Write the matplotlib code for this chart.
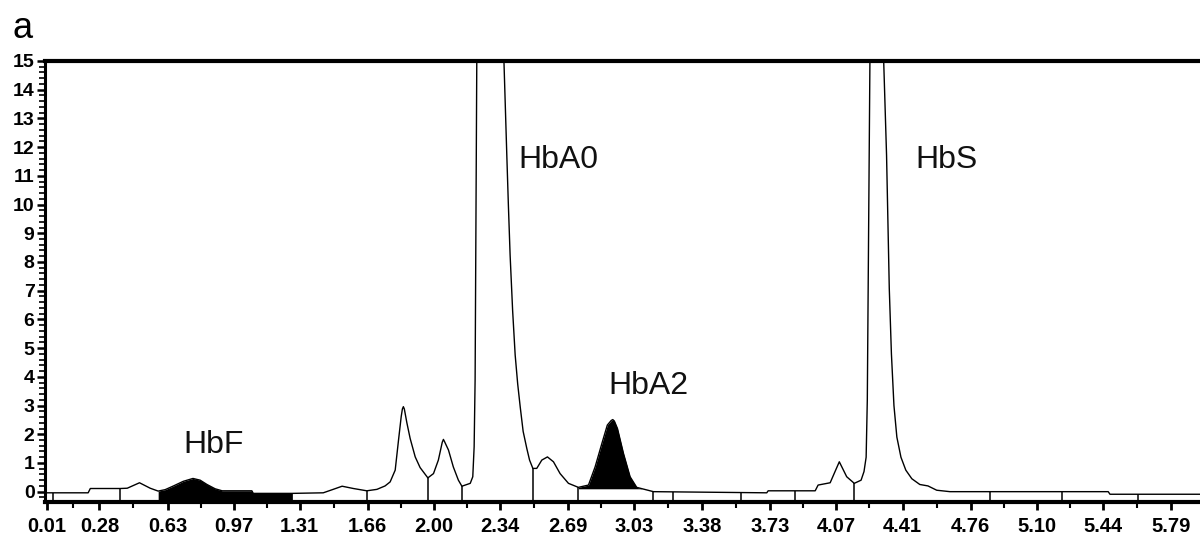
import matplotlib
matplotlib.use("Agg")
import matplotlib.pyplot as plt
import numpy as np
from matplotlib.ticker import AutoMinorLocator, FixedLocator

# ---- data (time in min, signal) ----
time = [0.010, 0.222, 0.233, 0.387, 0.423, 0.486, 0.541, 0.582, 0.618, 0.661,
        0.711, 0.761, 0.798, 0.833, 0.875, 0.911, 1.064, 1.071, 1.270, 1.431,
        1.482, 1.528, 1.586, 1.655, 1.707, 1.749, 1.775, 1.801, 1.818, 1.832,
        1.838, 1.843, 1.848, 1.861, 1.878, 1.904, 1.929, 1.969, 1.998, 2.023,
        2.043, 2.049, 2.055, 2.075,
        2.100, 2.126, 2.144, 2.187, 2.200, 2.207, 2.212, 2.221, 2.289, 2.358,
        2.375, 2.383, 2.392, 2.405, 2.418, 2.431, 2.444, 2.459, 2.478, 2.492,
        2.509, 2.529, 2.555, 2.584, 2.615,
        2.649, 2.692, 2.743, 2.795, 2.829, 2.864, 2.892, 2.912, 2.920, 2.928,
        2.944, 2.975,
        3.009, 3.043, 3.112, 3.129, 3.712, 3.719, 3.961, 3.976, 4.038, 4.063,
        4.085, 4.123, 4.162, 4.197, 4.212, 4.223, 4.229, 4.243, 4.279, 4.311,
        4.328, 4.342, 4.353, 4.366, 4.381, 4.402, 4.427, 4.458, 4.499, 4.541,
        4.586, 4.654, 5.468, 5.477, 5.940]
signal = [-0.04, -0.04, 0.11, 0.11, 0.12, 0.31, 0.12, 0.02, 0.07, 0.20,
          0.36, 0.46, 0.40, 0.25, 0.10, 0.03, 0.03, -0.06, -0.06, -0.04,
          0.08, 0.19, 0.11, 0.03, 0.08, 0.20, 0.34, 0.75, 1.79, 2.62,
          2.88, 2.96, 2.88, 2.40, 1.85, 1.21, 0.84, 0.48, 0.63, 1.10,
          1.72, 1.82, 1.74, 1.45,
          0.86, 0.40, 0.19, 0.29, 0.52, 1.56, 3.90, 15.5, 18.0, 15.5,
          11.72, 10.0, 8.24, 6.3, 4.76, 3.75, 2.95, 2.10, 1.50, 1.10,
          0.81, 0.81, 1.10, 1.21, 1.04,
          0.63, 0.29, 0.15, 0.23, 0.86, 1.68, 2.32, 2.48, 2.51, 2.46,
          2.20, 1.33,
          0.52, 0.15, 0.03, 0.00, -0.04, 0.03, 0.03, 0.23, 0.31, 0.70,
          1.04, 0.52, 0.29, 0.40, 0.70, 1.20, 3.19, 15.5, 18.0, 15.5,
          11.72, 7.08, 4.80, 3.00, 1.90, 1.20, 0.75, 0.45, 0.25, 0.20,
          0.05, 0.00, 0.00, -0.09, -0.09]

# peak delimiters (integration boundaries), min
dividers = [0.042, 0.387, 1.270, 1.655, 1.969, 2.144, 2.509, 2.743, 3.129,
            3.232, 3.578, 3.857, 4.162, 4.862, 5.230, 5.622]

# shaded peaks (start, end) in min
hbf_range = (0.582, 1.270)
hba2_range = (2.743, 3.112)
hba2_base = 0.10

x_ticks = [0.01, 0.28, 0.63, 0.97, 1.31, 1.66, 2.00, 2.34, 2.69, 3.03, 3.38,
           3.73, 4.07, 4.41, 4.76, 5.10, 5.44, 5.79]
x_labels = ["0.01", "0.28", "0.63", "0.97", "1.31", "1.66", "2.00", "2.34",
            "2.69", "3.03", "3.38", "3.73", "4.07", "4.41", "4.76", "5.10",
            "5.44", "5.79"]
y_ticks = list(range(0, 16))

peak_labels = ["HbF", "HbA0", "HbA2", "HbS"]
peak_label_t = [0.711, 2.433, 2.897, 4.474]
peak_label_v = [1.34, 11.26, 3.39, 11.27]

Y_BOTTOM = -0.36
Y_TOP = 15.0

t = np.array(time)
s = np.array(signal)

fig = plt.figure(figsize=(12, 5.36), dpi=100)
W, H = 1200, 536
ax = fig.add_axes([45 / W, 1 - 502 / H, (W - 45) / W, (502 - 61) / H])

ax.plot(t, s, color="black", lw=1.0, zorder=3, solid_joinstyle="round")

# HbF fill (down to the axis)
m = (t >= hbf_range[0]) & (t <= hbf_range[1])
ax.fill_between(t[m], s[m], Y_BOTTOM, color="black", lw=0, zorder=2)
# HbA2 fill (down to integration baseline)
m = (t >= hba2_range[0]) & (t <= hba2_range[1])
ax.fill_between(t[m], s[m], hba2_base, where=s[m] >= hba2_base,
                interpolate=True, color="black", lw=0, zorder=2)

# delimiters
div = np.array(dividers)
ax.vlines(div, Y_BOTTOM, np.interp(div, t, s), color="black", lw=1.1, zorder=2)

ax.set_xlim(0.0, 5.94)
ax.set_ylim(Y_BOTTOM, Y_TOP)

for name, tx, ty in zip(peak_labels, peak_label_t, peak_label_v):
    ax.text(tx, ty, name, fontsize=23, family="Liberation Sans",
            ha="left", va="baseline", color="#111111")

fig.text(12 / W, 1 - 38 / H, "a", fontsize=26, family="Liberation Sans",
         ha="left", va="baseline")

# axes styling
ax.spines["right"].set_visible(False)
ax.spines["top"].set_linewidth(3.0)
ax.spines["bottom"].set_linewidth(3.0)
ax.spines["left"].set_linewidth(2.2)

ax.xaxis.set_major_locator(FixedLocator(x_ticks))
ax.set_xticklabels(x_labels)
mid = [(a + b) / 2 for a, b in zip(x_ticks[:-1], x_ticks[1:])] + [5.965]
ax.xaxis.set_minor_locator(FixedLocator(mid))
ax.set_yticks(y_ticks)
ax.yaxis.set_minor_locator(AutoMinorLocator(5))

ax.tick_params(axis="x", which="major", length=6, width=2, pad=5,
               labelsize=14.5, direction="out")
ax.tick_params(axis="x", which="minor", length=4, width=1.5, direction="out")
ax.tick_params(axis="y", which="major", length=6, width=1.8, pad=1.5,
               labelsize=14, direction="out")
ax.tick_params(axis="y", which="minor", length=4, width=1.2, direction="out")
for lab in ax.get_xticklabels() + ax.get_yticklabels():
    lab.set_fontfamily("Liberation Sans")
    lab.set_fontweight("bold")

fig.savefig("out.png", dpi=100)
